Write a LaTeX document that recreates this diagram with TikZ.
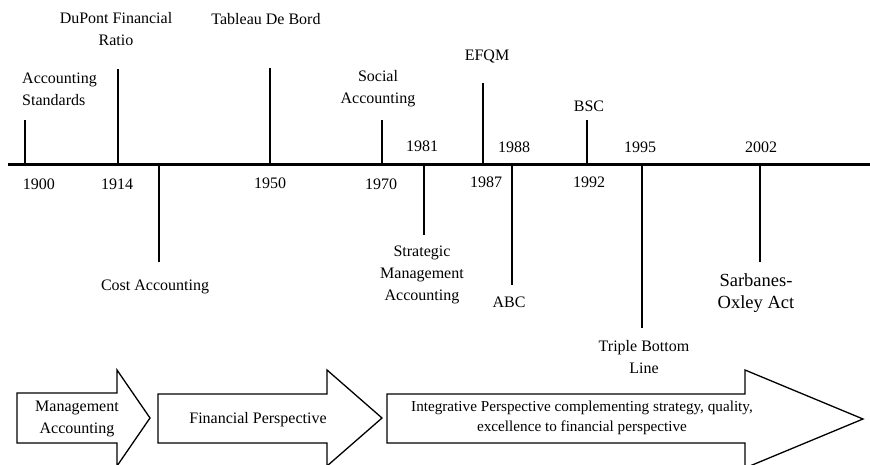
\documentclass[tikz,border=0pt]{standalone}
\usepackage{fontspec}
\setmainfont{Liberation Serif}
\begin{document}
\begin{tikzpicture}[x=1pt,y=-1pt,
  lbl/.style={font=\fontsize{16}{22}\selectfont, align=center, inner sep=0pt},
  big/.style={font=\fontsize{18.5}{22}\selectfont, align=center, inner sep=0pt},
  small/.style={font=\fontsize{15.2}{20}\selectfont, align=center, inner sep=0pt},
  axisline/.style={line width=3pt},
  tickline/.style={line width=2.4pt},
  arrowshape/.style={draw, line width=1.3pt, fill=white, line join=miter}]
\useasboundingbox (0,0) rectangle (870,465);
% axis
\coordinate (axL) at (8,165);
\coordinate (axR) at (870,165);
\draw[axisline] (axL) -- (axR);
% ticks up
\foreach \n/\x/\t in {a/25/120, b/118/69, c/270/68, d/382/120, e/483/83, f/587/120}{
  \coordinate (t\n0) at (\x,165);
  \coordinate (t\n1) at (\x,\t);
  \draw[tickline] (t\n0) -- (t\n1);
}
% ticks down
\foreach \n/\x/\t in {g/159/262, h/424/235, i/512/285, j/642/328, k/760/262}{
  \coordinate (t\n0) at (\x,165);
  \coordinate (t\n1) at (\x,\t);
  \draw[tickline] (t\n0) -- (t\n1);
}
% labels above
\node[lbl, align=left, anchor=west] (accstd) at (22,89) {Accounting\\Standards};
\node[lbl] (dupont) at (116,29) {DuPont Financial\\Ratio};
\node[lbl] (tableau) at (266,19) {Tableau De Bord};
\node[lbl] (social) at (378,89) {Social\\Accounting};
\node[lbl] (efqm) at (487,57) {EFQM};
\node[lbl] (bsc) at (589,106) {BSC};
% years
\node[lbl] (y1981) at (422,146) {1981};
\node[lbl] (y1988) at (514,147) {1988};
\node[lbl] (y1995) at (640,147) {1995};
\node[lbl] (y2002) at (761,147) {2002};
\node[lbl] (y1900) at (39,184) {1900};
\node[lbl] (y1914) at (117,184) {1914};
\node[lbl] (y1950) at (270,183) {1950};
\node[lbl] (y1970) at (381,184) {1970};
\node[lbl] (y1987) at (486,182) {1987};
\node[lbl] (y1992) at (589,182) {1992};
% labels below
\node[lbl] (cost) at (155,287) {Cost Accounting};
\node[lbl] (sma) at (422,275) {Strategic\\Management\\Accounting};
\node[lbl] (abc) at (509,302) {ABC};
\node[lbl] (tbl) at (644,357) {Triple Bottom\\Line};
\node[big] (sox) at (756,293) {Sarbanes-\\Oxley Act};
% big arrows
\draw[arrowshape] (17,393) -- (117,393) -- (117,370) -- (150,418) -- (117,466) -- (117,443) -- (17,443) -- cycle;
\draw[arrowshape] (158,394) -- (327,394) -- (327,370) -- (382,418) -- (327,466) -- (327,443) -- (158,443) -- cycle;
\draw[arrowshape] (387,394) -- (745,394) -- (745,370) -- (863,419) -- (745,468) -- (745,443) -- (387,443) -- cycle;
\node[lbl] (ma) at (77,419) {Management\\Accounting};
\node[lbl] (fp) at (258,420) {Financial Perspective};
\node[small] (ip) at (582,418) {Integrative Perspective complementing strategy, quality,\\excellence to financial perspective};
\end{tikzpicture}
\end{document}
